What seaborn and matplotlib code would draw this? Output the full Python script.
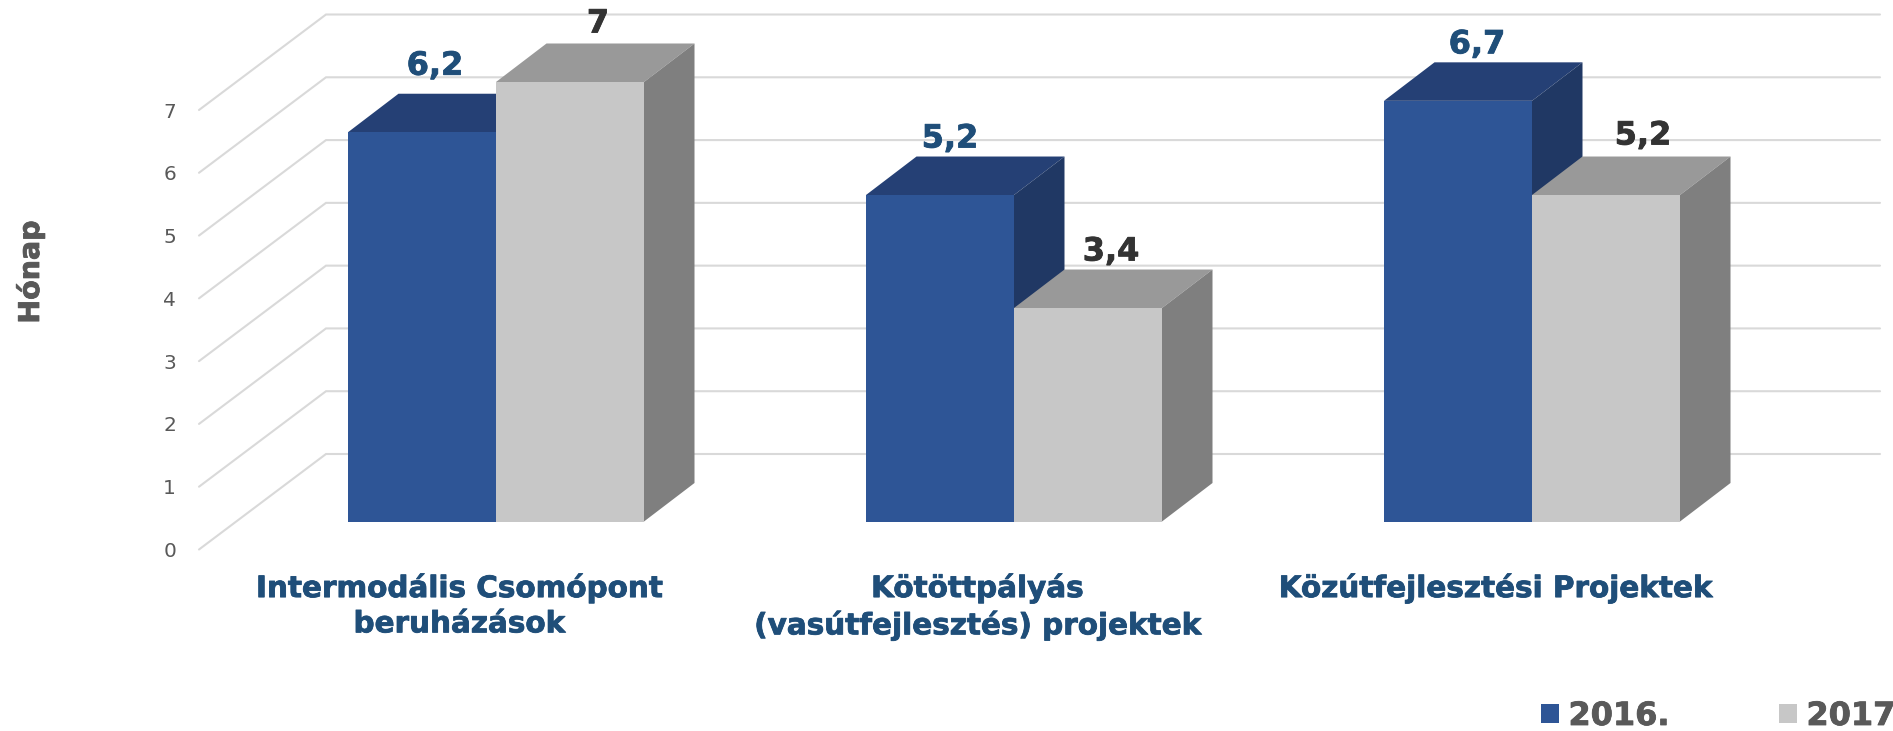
import matplotlib
matplotlib.use("Agg")
import matplotlib.pyplot as plt
from matplotlib import patheffects
from matplotlib.transforms import ScaledTranslation
import pandas as pd
import seaborn as sns

# Data.
categories = [
    "Intermodális Csomópont\nberuházások",
    "Kötöttpályás\n(vasútfejlesztés) projektek",
    "Közútfejlesztési Projektek",
]
years = ["2016.", "2017."]
values_2016 = [6.2, 5.2, 6.7]
values_2017 = [7, 3.4, 5.2]
y_ticks = [0, 1, 2, 3, 4, 5, 6, 7]
y_label = "Hónap"

# Colours per series: front, top, side, label.
front_colors = ["#2E5596", "#C7C7C7"]
top_colors = ["#254075", "#999999"]
side_colors = ["#203864", "#7F7F7F"]
label_colors = ["#1F4E79", "#333333"]

# Value label nudges in pixels, from the top centre of each front face.
label_nudges = [
    [(13, 66), (10, 56), (19, 56)],
    [(28, 58), (23, 56), (37, 59)],
]

# Layout in pixels of the 1893x731 picture.
W, H, DPI = 1893, 731, 100
BASE_Y, TOP_Y = 521.5, 82
AXES_LEFT = 199
FIRST_CENTER, CENTER_STEP = 496, 518
UNIT = (BASE_Y - TOP_Y) / 7
DEPTH_X, DEPTH_Y = 50.5, 38.5
WALL_X, WALL_Y = 326, 67.5
FRONT_X_SHIFT, FRONT_Y_SHIFT = 37, 28
GRID_END = 1880


def thicken(text, color):
    # Verdana bold is heavier than DejaVu bold.
    text.set_path_effects([patheffects.withStroke(linewidth=0.6, foreground=color)])


sns.set_theme(style="white")
plt.rcParams["font.family"] = ["DejaVu Sans"]

df = pd.DataFrame({
    "category": categories * 2,
    "year": [years[0]] * 3 + [years[1]] * 3,
    "value": values_2016 + values_2017,
})

fig = plt.figure(figsize=(W / DPI, H / DPI), dpi=DPI)
ax = fig.add_axes([AXES_LEFT / W, 1 - BASE_Y / H, 1 - AXES_LEFT / W, (BASE_Y - TOP_Y) / H])
ax.patch.set_alpha(0)

sns.barplot(
    data=df, x="category", y="value", hue="year", hue_order=years,
    palette=front_colors, saturation=1, width=296 / CENTER_STEP, gap=0,
    linewidth=0, ax=ax,
)

x_of = lambda px: (px - FIRST_CENTER) / CENTER_STEP
ax.set_xlim(x_of(AXES_LEFT), x_of(W))
ax.set_ylim(0, 7)
ax.set_yticks(y_ticks)
ax.set_xlabel("")
sns.despine(ax=ax, left=True, bottom=True)

# Floor and wall gridlines.
for t in y_ticks:
    ax.plot(
        [x_of(AXES_LEFT), x_of(WALL_X), x_of(GRID_END)],
        [t - FRONT_Y_SHIFT / UNIT, t + WALL_Y / UNIT, t + WALL_Y / UNIT],
        color="#D9D9D9", lw=1.5, clip_on=False, zorder=1,
        solid_joinstyle="miter",
    )

# Extruded top and side of every bar, with its value label.
dx = DEPTH_X / CENTER_STEP
dy = DEPTH_Y / UNIT
z = 3
for s, container in enumerate(ax.containers):
    for i, bar in enumerate(container):
        x0, x1 = bar.get_x(), bar.get_x() + bar.get_width()
        h = bar.get_height()
        ax.fill(
            [x0, x1, x1 + dx, x0 + dx], [h, h, h + dy, h + dy],
            color=top_colors[s], lw=0, clip_on=False, zorder=z,
        )
        ax.fill(
            [x1, x1 + dx, x1 + dx, x1], [0, dy, h + dy, h],
            color=side_colors[s], lw=0, clip_on=False, zorder=z,
        )
        bar.set_zorder(z + 0.5)
        bar.set_clip_on(False)
        z += 1
        text = f"{h:g}".replace(".", ",")
        note = ax.annotate(
            text, (bar.get_x() + bar.get_width() / 2, h),
            xytext=label_nudges[s][i], textcoords="offset pixels",
            ha="center", va="center", fontsize=23, fontweight="bold",
            color=label_colors[s], annotation_clip=False, zorder=20,
        )
        thicken(note, label_colors[s])

# Tick labels sit on the front plane, which is shifted from the bar plane.
ax.tick_params(axis="y", length=0, pad=16.5, labelsize=14.5, labelcolor="#595959")
ax.tick_params(axis="x", length=0, pad=37.5, labelsize=21.2, labelcolor="#1F4E79")
for label in ax.get_yticklabels():
    label.set_transform(label.get_transform() + ScaledTranslation(0, -FRONT_Y_SHIFT / DPI, fig.dpi_scale_trans))
for label in ax.get_xticklabels():
    label.set_fontweight("bold")
    label.set_linespacing(1.33)
    label.set_transform(label.get_transform() + ScaledTranslation(-FRONT_X_SHIFT / DPI, 0, fig.dpi_scale_trans))
    thicken(label, "#1F4E79")

ax.set_ylabel(y_label, fontsize=20.5, fontweight="bold", color="#595959")
ax.yaxis.set_label_coords(45 / W, 1 - 272 / H, transform=fig.transFigure)
thicken(ax.yaxis.label, "#595959")

sns.move_legend(
    ax, loc="lower left", bbox_to_anchor=(1541 / W, 1 - 732 / H),
    bbox_transform=fig.transFigure, ncol=2, frameon=False, title=None,
    fontsize=23, handlelength=0.56, handleheight=0.56, handletextpad=0.3,
    columnspacing=3.42, borderpad=0, borderaxespad=0,
)
for text in ax.get_legend().get_texts():
    text.set_fontweight("bold")
    text.set_color("#595959")
    thicken(text, "#595959")

fig.savefig("out.png", dpi=DPI, facecolor="white")
